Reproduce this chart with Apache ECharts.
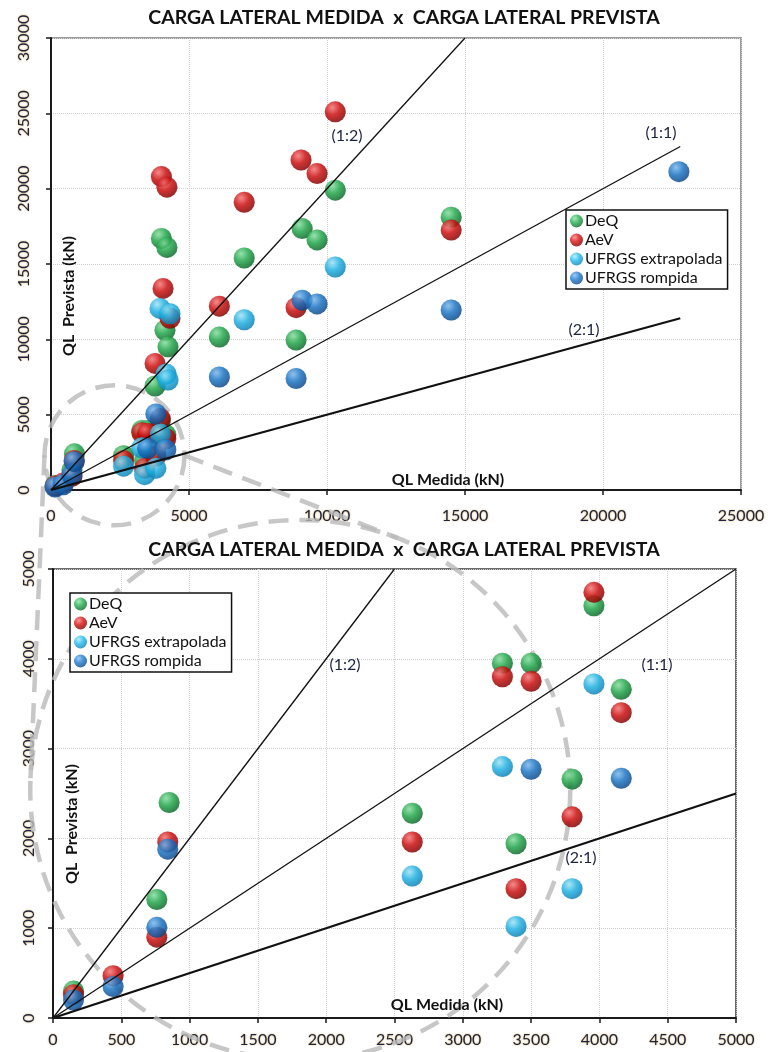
<!DOCTYPE html>
<html>
<head>
<meta charset="utf-8">
<script src="https://cdn.jsdelivr.net/npm/echarts@6/dist/echarts.min.js"></script>
<style>
  html, body { margin: 0; padding: 0; background: #ffffff; }
  #chart { width: 768px; height: 1052px; }
</style>
</head>
<body>
<div id="chart"></div>
<script>
// ---- data: [QL medida, QL prevista] in kN ----
const seriesNames = ['DeQ', 'AeV', 'UFRGS extrapolada', 'UFRGS rompida'];

const deq = [
  [150, 300], [760, 1320], [850, 2400], [2630, 2280], [3290, 3950], [3390, 1940],
  [3500, 3950], [3800, 2660], [3960, 4590], [4160, 3660], [3770, 6900], [4130, 10600],
  [4240, 9500], [4000, 16700], [4200, 16100], [6100, 10150], [7000, 15400], [8880, 9950],
  [9100, 17350], [9640, 16600], [10300, 19900], [14500, 18100]
];
const aev = [
  [150, 260], [440, 470], [760, 900], [840, 1960], [2630, 1960], [3290, 3800],
  [3390, 1440], [3500, 3750], [3800, 2240], [3960, 4740], [4160, 3400], [3770, 8400],
  [4310, 11400], [4060, 13380], [4000, 20800], [4200, 20100], [6100, 12200], [7000, 19100],
  [8880, 12100], [9060, 21900], [9640, 21000], [10300, 25100], [14500, 17250]
];
const extrapolada = [
  [2630, 1580], [3290, 2800], [3390, 1020], [3800, 1440], [3960, 3720], [4170, 7700],
  [4240, 7300], [3950, 12050], [4310, 11700], [7000, 11300], [10300, 14800]
];
const rompida = [
  [150, 200], [440, 350], [760, 1010], [840, 1880], [3500, 2770], [4160, 2670],
  [3800, 5050], [6100, 7500], [8880, 7400], [9100, 12600], [9640, 12350], [14500, 11950],
  [22750, 21130]
];
const pointSets = [deq, aev, extrapolada, rompida];

// reference lines through the origin: (1:2) y = 2x, (1:1) y = x, (2:1) y = x/2
const refTop = {
  '(1:2)': [[0, 0], [15000, 30000]],
  '(1:1)': [[0, 0], [22800, 22800]],
  '(2:1)': [[0, 0], [22800, 11400]]
};
const refBottom = {
  '(1:2)': [[0, 0], [2500, 5000]],
  '(1:1)': [[0, 0], [5000, 5000]],
  '(2:1)': [[0, 0], [5000, 2500]]
};

// axis ranges / tick steps
const topX = { min: 0, max: 25000, step: 5000 };
const topY = { min: 0, max: 30000, step: 5000 };
const botX = { min: 0, max: 5000, step: 500 };
const botY = { min: 0, max: 5000, step: 1000 };

const titleText = 'CARGA LATERAL MEDIDA  x  CARGA LATERAL PREVISTA';
const xName = 'QL Medida (kN)';
const yName = 'QL  Prevista (kN)';

// ---- styling ----
const FONT = 'Lato, "Open Sans", sans-serif';
const ink = '#1b2440';
const halo = 'rgba(214,150,50,0.85)';

function sphere(light, mid, dark) {
  return {
    type: 'radial', x: 0.36, y: 0.3, r: 0.72,
    colorStops: [
      { offset: 0, color: light },
      { offset: 0.5, color: mid },
      { offset: 1, color: dark }
    ]
  };
}
const fills = [
  sphere('#8be6a4', '#21ad4c', '#0b6d2a'),
  sphere('#ff7a7a', '#d40d0d', '#8a0000'),
  sphere('#a6ecff', '#1fb8ec', '#0b86bd'),
  sphere('#7fbef5', '#1a78cc', '#0b4a8f')
];

function axisPair(grid, xr, yr, xMargin, yMargin) {
  const label = {
    color: ink, fontFamily: FONT, fontSize: 16,
    textShadowColor: halo, textShadowBlur: 2,
    formatter: function (v) { return String(v); }
  };
  const common = {
    type: 'value',
    gridIndex: grid,
    axisLine: { show: true, lineStyle: { color: '#1a1a1a', width: 2 } },
    axisTick: { show: true, inside: false, length: 5, lineStyle: { color: '#1a1a1a', width: 1.5 } },
    splitLine: { show: true, lineStyle: { color: '#cfcfcf', type: 'dotted', width: 1 } }
  };
  const x = Object.assign({}, common, {
    min: xr.min, max: xr.max, interval: xr.step,
    axisLabel: Object.assign({}, label, { margin: xMargin })
  });
  const y = Object.assign({}, common, {
    min: yr.min, max: yr.max, interval: yr.step,
    axisLabel: Object.assign({}, label, { rotate: 90, margin: yMargin })
  });
  return [x, y];
}

const [x0, y0] = axisPair(0, topX, topY, 18, 19);
const [x1, y1] = axisPair(1, botX, botY, 14, 16);

const series = [];
[0, 1].forEach(function (g) {
  seriesNames.forEach(function (name, i) {
    series.push({
      name: name,
      type: 'scatter',
      xAxisIndex: g, yAxisIndex: g,
      data: pointSets[i],
      symbol: 'circle',
      symbolSize: 21,
      clip: true,
      z: 3,
      itemStyle: { color: fills[i], shadowBlur: 1, shadowColor: 'rgba(0,0,0,0.25)' },
      emphasis: { disabled: true }
    });
  });
  const refs = g === 0 ? refTop : refBottom;
  Object.keys(refs).forEach(function (key) {
    series.push({
      name: key,
      type: 'line',
      xAxisIndex: g, yAxisIndex: g,
      data: refs[key],
      symbol: 'none',
      silent: true,
      z: 5,
      lineStyle: { color: '#111', width: key === '(2:1)' ? 2.2 : 1.3 }
    });
  });
});

function legendAt(left, top) {
  return {
    orient: 'vertical',
    left: left, top: top,
    data: seriesNames.map(function (n) { return { name: n, icon: 'circle' }; }),
    itemWidth: 13, itemHeight: 13, itemGap: 3,
    padding: [3, 5, 3, 4],
    borderColor: '#111', borderWidth: 1.5,
    backgroundColor: '#fff',
    selectedMode: false,
    textStyle: { fontFamily: FONT, fontSize: 16, color: '#111', padding: [0, 0, 0, -3] }
  };
}

const chart = echarts.init(document.getElementById('chart'), null, { renderer: 'canvas' });
chart.setOption({
  animation: false,
  backgroundColor: '#ffffff',
  grid: [
    { left: 51, top: 38, width: 690, height: 452, show: true, borderColor: '#9c9c9c', borderWidth: 2 },
    { left: 53, top: 569, width: 683, height: 449, show: true, borderColor: '#3a3a3a', borderWidth: 1.5 }
  ],
  xAxis: [x0, x1],
  yAxis: [y0, y1],
  legend: [legendAt(566, 210), legendAt(70, 593)],
  series: series
});

// ---- annotations: titles, axis names, line labels, dashed callout ----
function txt(x, y, text, opts) {
  opts = opts || {};
  return {
    type: 'text', x: x, y: y, rotation: opts.rotation || 0, z: 10,
    style: {
      text: text, fill: opts.fill || '#111',
      font: (opts.weight || 'normal') + ' ' + (opts.size || 16) + 'px ' + FONT,
      align: 'center', verticalAlign: 'middle',
      shadowColor: halo, shadowBlur: opts.blur == null ? 2 : opts.blur
    }
  };
}

const labels = [
  txt(404, 18, titleText, { weight: 'bold', size: 19.5 }),
  txt(404, 550, titleText, { weight: 'bold', size: 19.5 }),
  txt(69, 296, yName, { weight: 'bold', size: 16, rotation: Math.PI / 2 }),
  txt(72, 824, yName, { weight: 'bold', size: 16, rotation: Math.PI / 2 }),
  txt(448, 480, xName, { weight: 'bold', size: 16 }),
  txt(447, 1005, xName, { weight: 'bold', size: 16 }),
  txt(347, 136, '(1:2)', { fill: ink }),
  txt(661, 133, '(1:1)', { fill: ink }),
  txt(584, 330, '(2:1)', { fill: ink }),
  txt(345, 665, '(1:2)', { fill: ink }),
  txt(657, 665, '(1:1)', { fill: ink }),
  txt(581, 858, '(2:1)', { fill: ink })
];

// magnifier callout: small circle round the origin region of the upper plot,
// large circle over the lower plot, joined by lines from the small circle's
// left and right ends to tangent points on the large one
const smallC = chart.convertToPixel({ gridIndex: 0 }, [2300, 2300]);
const smallR = 70;
const bigC = chart.convertToPixel({ gridIndex: 1 }, [1810, 2540]);
const bigR = 270;

// tangent point on circle (c, r) seen from external point p; side = +1 / -1
function tangentFrom(p, c, r, side) {
  const dx = p[0] - c[0], dy = p[1] - c[1], d = Math.hypot(dx, dy);
  const a = Math.atan2(dy, dx) + side * Math.acos(r / d);
  return [c[0] + r * Math.cos(a), c[1] + r * Math.sin(a)];
}
const leftStart = [smallC[0] - smallR, smallC[1]];
const rightStart = [smallC[0] + smallR, smallC[1]];
const leftEnd = tangentFrom(leftStart, bigC, bigR, -1);
const rightEnd = tangentFrom(rightStart, bigC, bigR, 1);

const dash = { stroke: 'rgba(185,185,185,0.8)', lineWidth: 4.5, lineDash: [20, 11], fill: null };
function dashLine(a, b) {
  return { type: 'line', z: 1, silent: true, shape: { x1: a[0], y1: a[1], x2: b[0], y2: b[1] }, style: dash };
}
const callout = [
  { type: 'circle', z: 1, silent: true, shape: { cx: smallC[0], cy: smallC[1], r: smallR }, style: dash },
  { type: 'circle', z: 1, silent: true, shape: { cx: bigC[0], cy: bigC[1], r: bigR }, style: dash },
  dashLine(leftStart, leftEnd),
  dashLine(rightStart, rightEnd)
];

chart.setOption({ graphic: { elements: callout.concat(labels) } });
</script>
</body>
</html>
